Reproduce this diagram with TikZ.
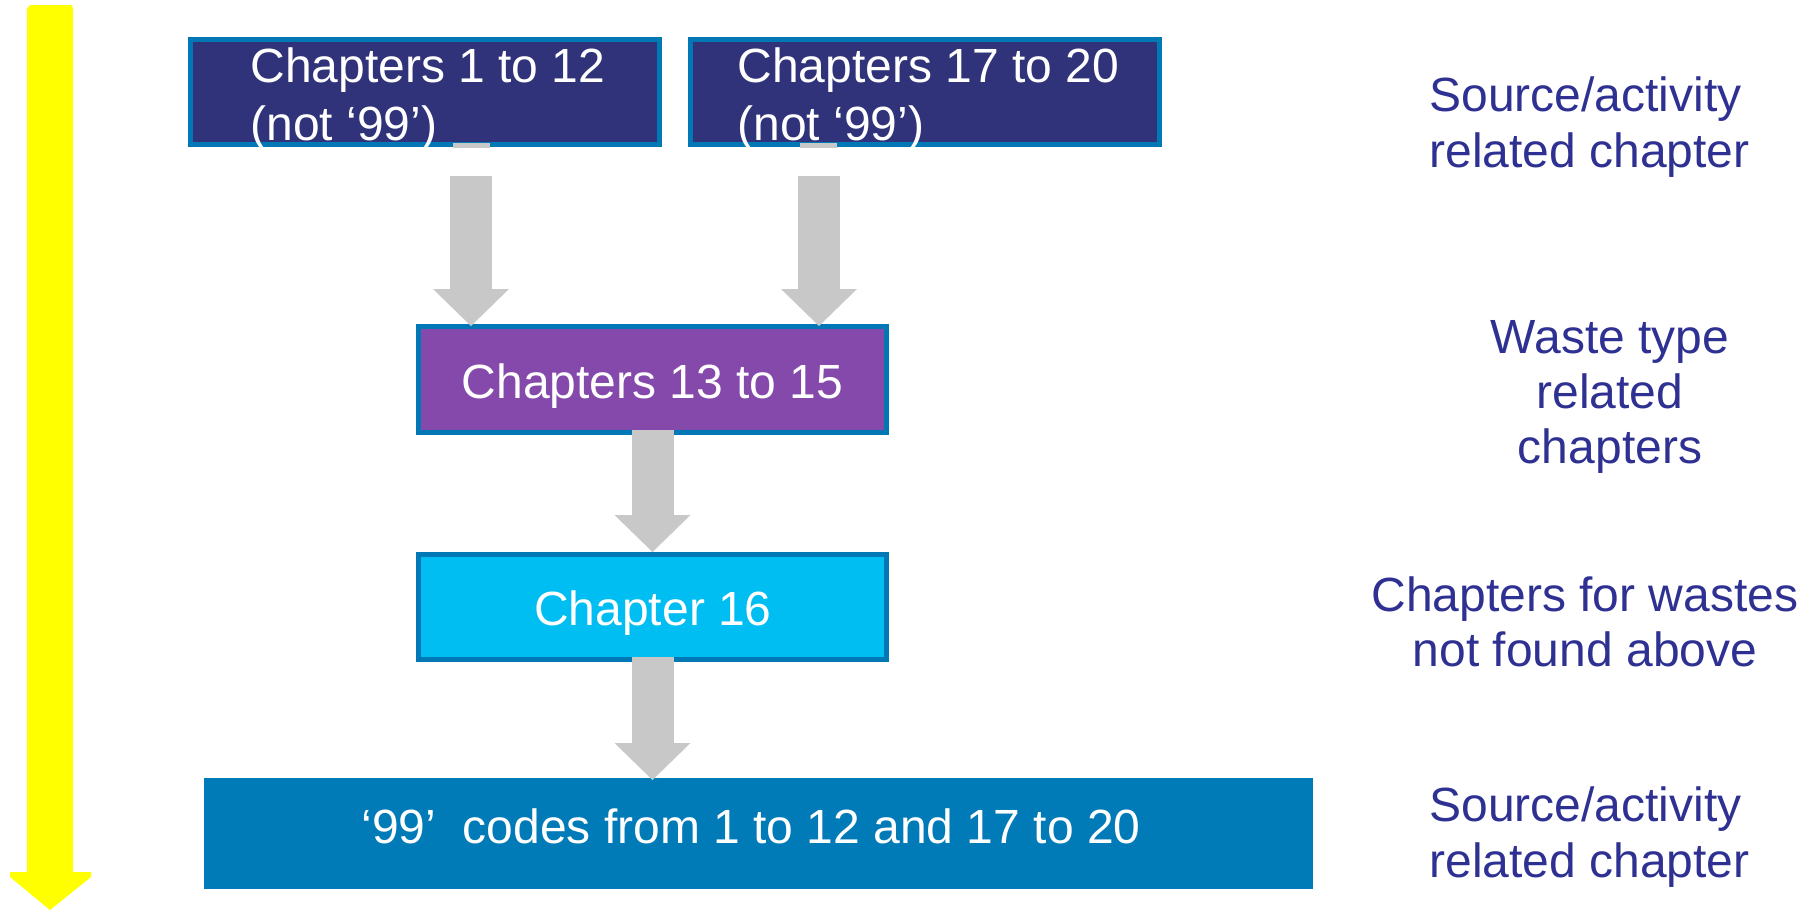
\documentclass[tikz,border=0pt]{standalone}
\usepackage{fontspec}
\setmainfont{Liberation Sans}
\usetikzlibrary{arrows.meta,calc}
\definecolor{navyc}{HTML}{303379}
\definecolor{bordblue}{HTML}{0078B6}
\definecolor{purplec}{HTML}{8549AB}
\definecolor{cyanc}{HTML}{00BDF2}
\definecolor{boxfivec}{HTML}{007BB8}
\definecolor{arrowgray}{HTML}{C8C8C8}
\definecolor{yellowc}{HTML}{FFFF00}
\definecolor{labelblue}{HTML}{2E3192}
\begin{document}
\begin{tikzpicture}[x=0.5pt,y=-0.5pt,
  box/.style={draw=bordblue, line width=2.5pt, inner sep=0pt, minimum width=234.5pt, minimum height=52.5pt},
  boxtext/.style={text=white, font=\fontsize{24}{29}\selectfont, inner sep=0pt},
  sidelabel/.style={text=labelblue, font=\fontsize{24}{28}\selectfont, inner sep=0pt},
  blockarrow/.style={draw=arrowgray, line width=21pt, -{Triangle[line width=0pt, width=38pt, length=18.5pt]}}]
\useasboundingbox (0,0) rectangle (1815,910);
% yellow arrow
\fill[yellowc] (30,5) -- (72,5) -- (73,9) -- (73,872) -- (91,872) -- (91,877) -- (50,910) -- (10,877) -- (10,872) -- (27,872) -- (27,9) -- cycle;
% boxes
\node[box, fill=navyc] (b1) at (425,92) {};
\node[box, fill=navyc] (b2) at (925,92) {};
\node[box, fill=purplec, minimum width=234pt, minimum height=53pt] (b3) at (652.5,379.5) {};
\node[box, fill=cyanc, minimum width=234pt] (b4) at (652.5,607) {};
\node[box, draw=none, fill=boxfivec, minimum width=554.5pt, minimum height=55.5pt] (b5) at (758.5,833.5) {};
% box texts (base anchor = baseline of the last line)
\node[boxtext, anchor=base west, align=left] (t1) at (250,140) {Chapters 1 to 12\\(not ‘99’)};
\node[boxtext, anchor=base west, align=left] (t2) at (737,140) {Chapters 17 to 20\\(not ‘99’)};
\node[boxtext, anchor=base] (t3) at (652.5,398) {Chapters 13 to 15};
\node[boxtext, anchor=base] (t4) at (653,625) {Chapter 16};
\node[boxtext, anchor=base] (t5) at (751,843) {‘99’\ \ codes from 1 to 12 and 17 to 20};
% small gray marks on the top boxes
\fill[arrowgray] (453,143) rectangle (490,148);
\fill[arrowgray] (800,143) rectangle (837,148);
% block arrows
\coordinate (s1) at (471,176);
\coordinate (s2) at (819,176);
\coordinate (s3) at ($(b3.south)+(0,-5)$);
\coordinate (s4) at ($(b4.south)+(0,-5)$);
\draw[blockarrow] (s1) -- ($(s1 |- b3.north)+(0,2)$);
\draw[blockarrow] (s2) -- ($(s2 |- b3.north)+(0,2)$);
\draw[blockarrow] (s3) -- (s3 |- b4.north);
\draw[blockarrow] (s4) -- ($(s4 |- b5.north)+(0,4.5)$);
% side labels (base anchor = baseline of the last line)
\node[sidelabel, anchor=base west, align=left] (l1) at (1429,167) {Source/activity\\related chapter};
\node[sidelabel, anchor=base, align=center, font=\fontsize{24}{27.5}\selectfont] (l2) at (1610,463) {Waste type\\related\\chapters};
\node[sidelabel, anchor=base, align=center, font=\fontsize{24}{27.5}\selectfont] (l3) at (1585,666) {Chapters for wastes\\not found above};
\node[sidelabel, anchor=base west, align=left] (l4) at (1429,877) {Source/activity\\related chapter};
\end{tikzpicture}
\end{document}
